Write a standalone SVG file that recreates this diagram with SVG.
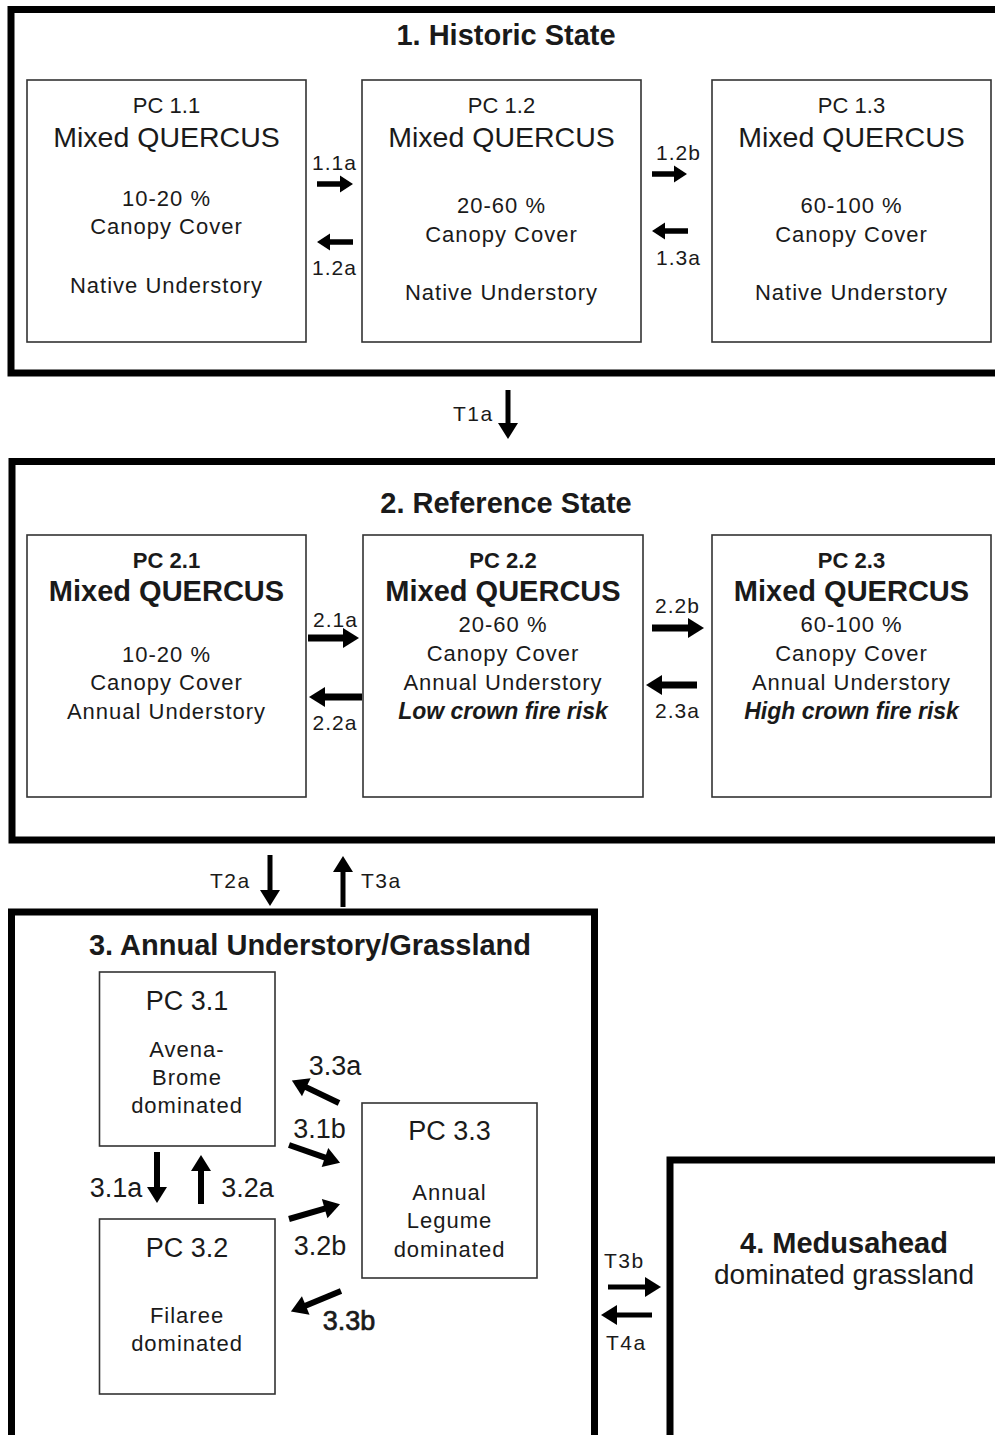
<svg xmlns="http://www.w3.org/2000/svg" width="995" height="1435" viewBox="0 0 995 1435">
<style>
text{font-family:"Liberation Sans",Arial,sans-serif;fill:#1a1a1a;text-anchor:middle}
.state{fill:none;stroke:#000;stroke-width:7}
.pc{fill:#fff;stroke:#333;stroke-width:1.6}
.title{font-size:29px;font-weight:bold}
.pcn{font-size:22px}
.mq{font-size:28.5px}
.pcb{font-size:22px;font-weight:bold}
.mqb{font-size:29px;font-weight:bold}
.body{font-size:22px;letter-spacing:1px}
.risk{font-size:23px;font-weight:bold;font-style:italic}
.lbl{font-size:21px;letter-spacing:1px}
.tl{font-size:21px;letter-spacing:1.5px;text-anchor:start}
.l3{font-size:27px}
.pc3{font-size:27px}
.s4{font-size:28px}
.a1{stroke:#000;stroke-width:5.5;fill:none;marker-end:url(#h1)}
.a2{stroke:#000;stroke-width:7;fill:none;marker-end:url(#h2)}
.a3{stroke:#000;stroke-width:6;fill:none;marker-end:url(#h2)}
.at{stroke:#000;stroke-width:5;fill:none;marker-end:url(#h2)}
</style>
<defs>
<marker id="h1" markerUnits="userSpaceOnUse" markerWidth="15" markerHeight="18" refX="1" refY="8.5" orient="auto" viewBox="0 0 15 18" overflow="visible">
<path d="M0,0 L13,8.5 L0,17 z" fill="#000"/>
</marker>
<marker id="h2" markerUnits="userSpaceOnUse" markerWidth="18" markerHeight="22" refX="1" refY="10" orient="auto" viewBox="0 0 18 22" overflow="visible">
<path d="M0,0 L16,10 L0,20 z" fill="#000"/>
</marker>
</defs>
<rect width="995" height="1435" fill="#fff"/>

<g id="state1">
<rect class="state" x="11" y="9.5" width="1000" height="363.5"/>
<text class="title" x="506" y="45">1. Historic State</text>
</g>
<g id="pc11">
<rect class="pc" x="27" y="80" width="279" height="262"/>
<text class="pcn" x="166.5" y="113">PC 1.1</text>
<text class="mq" x="166.5" y="147">Mixed QUERCUS</text>
<text class="body" x="166.5" y="206">10-20 %</text>
<text class="body" x="166.5" y="234">Canopy Cover</text>
<text class="body" x="166.5" y="293">Native Understory</text>
</g>
<g id="pc12">
<rect class="pc" x="362" y="80" width="279" height="262"/>
<text class="pcn" x="501.5" y="113">PC 1.2</text>
<text class="mq" x="501.5" y="147">Mixed QUERCUS</text>
<text class="body" x="501.5" y="213">20-60 %</text>
<text class="body" x="501.5" y="242">Canopy Cover</text>
<text class="body" x="501.5" y="300">Native Understory</text>
</g>
<g id="pc13">
<rect class="pc" x="712" y="80" width="279" height="262"/>
<text class="pcn" x="851.5" y="113">PC 1.3</text>
<text class="mq" x="851.5" y="147">Mixed QUERCUS</text>
<text class="body" x="851.5" y="213">60-100 %</text>
<text class="body" x="851.5" y="242">Canopy Cover</text>
<text class="body" x="851.5" y="300">Native Understory</text>
</g>

<g id="state2">
<rect class="state" x="12" y="461.5" width="1000" height="378.5"/>
<text class="title" x="506" y="513">2. Reference State</text>
</g>
<g id="pc21">
<rect class="pc" x="27" y="535" width="279" height="262"/>
<text class="pcb" x="166.5" y="568">PC 2.1</text>
<text class="mqb" x="166.5" y="601">Mixed QUERCUS</text>
<text class="body" x="166.5" y="662">10-20 %</text>
<text class="body" x="166.5" y="690">Canopy Cover</text>
<text class="body" x="166.5" y="719">Annual Understory</text>
</g>
<g id="pc22">
<rect class="pc" x="363" y="535" width="280" height="262"/>
<text class="pcb" x="503" y="568">PC 2.2</text>
<text class="mqb" x="503" y="601">Mixed QUERCUS</text>
<text class="body" x="503" y="632">20-60 %</text>
<text class="body" x="503" y="661">Canopy Cover</text>
<text class="body" x="503" y="690">Annual Understory</text>
<text class="risk" x="503" y="719">Low crown fire risk</text>
</g>
<g id="pc23">
<rect class="pc" x="712" y="535" width="279" height="262"/>
<text class="pcb" x="851.5" y="568">PC 2.3</text>
<text class="mqb" x="851.5" y="601">Mixed QUERCUS</text>
<text class="body" x="851.5" y="632">60-100 %</text>
<text class="body" x="851.5" y="661">Canopy Cover</text>
<text class="body" x="851.5" y="690">Annual Understory</text>
<text class="risk" x="851.5" y="719">High crown fire risk</text>
</g>

<g id="state3">
<rect class="state" x="11.5" y="912" width="583" height="600"/>
<text class="title" x="310" y="955">3. Annual Understory/Grassland</text>
</g>
<g id="pc31">
<rect class="pc" x="99.5" y="972" width="175.5" height="174"/>
<text class="pc3" x="187" y="1010">PC 3.1</text>
<text class="body" x="187" y="1057">Avena-</text>
<text class="body" x="187" y="1085">Brome</text>
<text class="body" x="187" y="1113">dominated</text>
</g>
<g id="pc32">
<rect class="pc" x="99.5" y="1219" width="175.5" height="175"/>
<text class="pc3" x="187" y="1257">PC 3.2</text>
<text class="body" x="187" y="1323">Filaree</text>
<text class="body" x="187" y="1351">dominated</text>
</g>
<g id="pc33">
<rect class="pc" x="362" y="1103" width="175" height="175"/>
<text class="pc3" x="449.5" y="1140">PC 3.3</text>
<text class="body" x="449.5" y="1200">Annual</text>
<text class="body" x="449.5" y="1228">Legume</text>
<text class="body" x="449.5" y="1257">dominated</text>
</g>

<g id="state4">
<rect class="state" x="670" y="1160" width="400" height="400"/>
<text class="title" x="844" y="1253">4. Medusahead</text>
<text class="s4" x="844" y="1284">dominated grassland</text>
</g>

<g id="connectors">
<line class="a1" x1="317" y1="184" x2="341" y2="184"/>
<text class="lbl" x="334.5" y="170">1.1a</text>
<line class="a1" x1="353" y1="242" x2="329" y2="242"/>
<text class="lbl" x="334.5" y="275">1.2a</text>
<line class="a1" x1="652" y1="174" x2="675" y2="174"/>
<text class="lbl" x="678.5" y="160">1.2b</text>
<line class="a1" x1="688" y1="231" x2="664" y2="231"/>
<text class="lbl" x="678.5" y="265">1.3a</text>

<line class="at" x1="508" y1="390" x2="508" y2="424"/>
<text class="tl" x="453" y="421">T1a</text>

<line class="a2" x1="308" y1="638" x2="344" y2="638"/>
<text class="lbl" x="335.5" y="627">2.1a</text>
<line class="a2" x1="362" y1="697" x2="324" y2="697"/>
<text class="lbl" x="335" y="730">2.2a</text>
<line class="a2" x1="652" y1="628" x2="689" y2="628"/>
<text class="lbl" x="677.5" y="613">2.2b</text>
<line class="a2" x1="697" y1="685" x2="661" y2="685"/>
<text class="lbl" x="677.5" y="718">2.3a</text>

<line class="at" x1="270" y1="855" x2="270" y2="891"/>
<text class="tl" x="210" y="888">T2a</text>
<line class="at" x1="343" y1="907" x2="343" y2="871"/>
<text class="tl" x="361" y="888">T3a</text>

<line class="a3" x1="157" y1="1152" x2="157" y2="1188"/>
<text class="l3" x="116" y="1197">3.1a</text>
<line class="a3" x1="201" y1="1204" x2="201" y2="1170"/>
<text class="l3" x="247.5" y="1197">3.2a</text>
<line class="a3" x1="339" y1="1103" x2="305.4" y2="1086.9"/>
<text class="l3" x="335" y="1075">3.3a</text>
<line class="a3" x1="289" y1="1145" x2="325.9" y2="1157.8"/>
<text class="l3" x="319.5" y="1138">3.1b</text>
<line class="a3" x1="289" y1="1219" x2="325.6" y2="1208.4"/>
<text class="l3" x="320" y="1255">3.2b</text>
<line class="a3" x1="341" y1="1291" x2="304.8" y2="1305.9"/>
<text class="l3" x="349" y="1330" stroke="#1a1a1a" stroke-width="0.7">3.3b</text>

<line class="at" x1="608" y1="1287" x2="646" y2="1287"/>
<text class="tl" x="604" y="1268">T3b</text>
<line class="at" x1="652" y1="1315" x2="616" y2="1315"/>
<text class="tl" x="606" y="1350">T4a</text>
</g>
</svg>
